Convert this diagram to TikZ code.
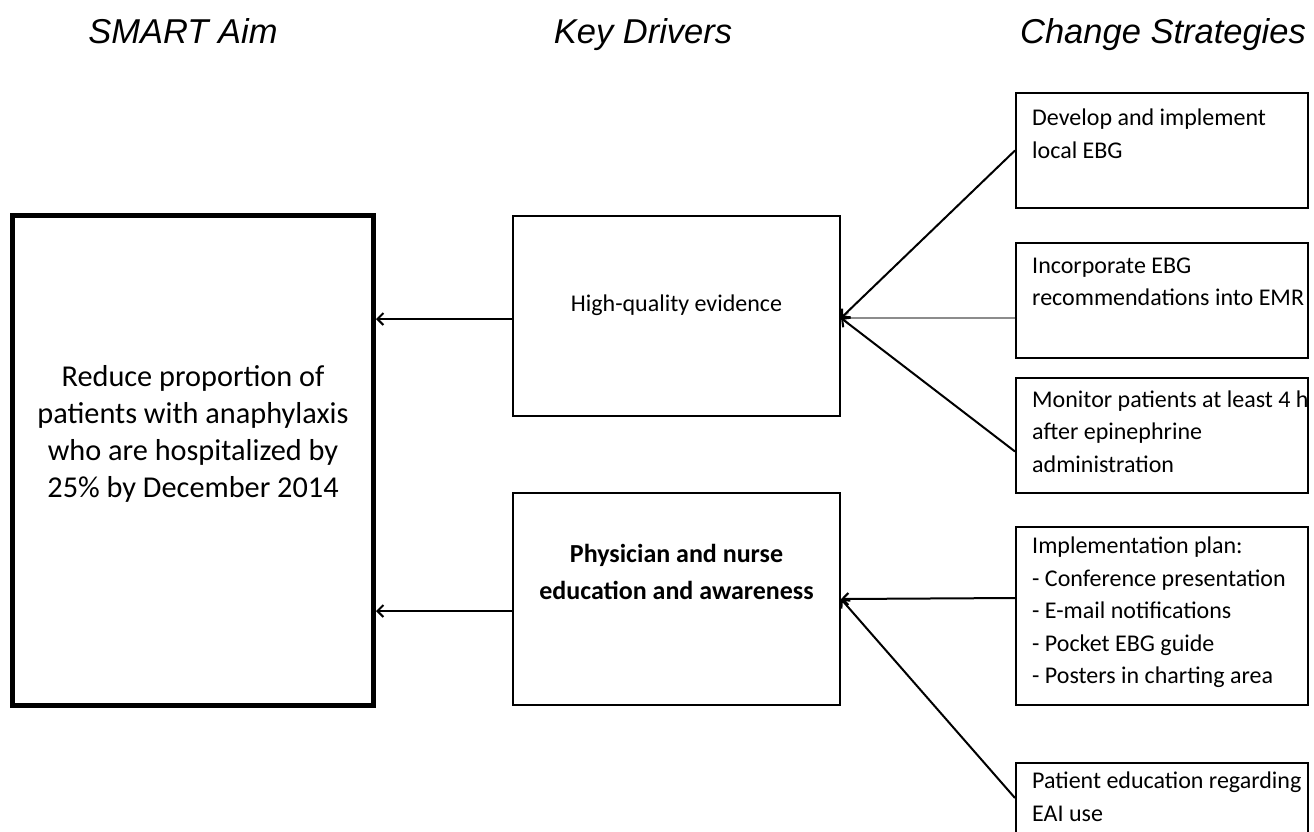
\documentclass[tikz,border=0pt]{standalone}
\usepackage{fontspec}
\setmainfont{Carlito}
\newfontfamily\titlefont{Liberation Sans}
\usetikzlibrary{arrows.meta}
\begin{document}
\begin{tikzpicture}[x=1pt,y=-1pt,
  title/.style={font=\titlefont\itshape\fontsize{34.5}{40}\selectfont, inner sep=0pt, anchor=base},
  box/.style={draw, line width=2pt, rectangle, inner sep=0pt},
  aimbox/.style={draw, line width=5pt, rectangle, inner sep=0pt, minimum width=361pt, minimum height=490pt},
  kdbox/.style={box, minimum width=327pt},
  csbox/.style={box, minimum width=292pt, minimum height=115pt},
  cstext/.style={font=\fontsize{24}{32.5}\selectfont, align=left, inner sep=0pt, anchor=base west},
  arr/.style={line width=2pt, -{Straight Barb[length=6pt,width=12pt]}},
]
\useasboundingbox (0,0) rectangle (1314,831);

% titles
\node[title] (h1) at (183,43) {SMART Aim};
\node[title] (h2) at (643,43) {Key Drivers};
\node[title] (h3) at (1163,43) {Change Strategies};

% aim
\node[aimbox] (aim) at (193,460.5) {};
\node[font=\fontsize{30.3}{37}\selectfont, align=center, inner sep=0pt] (aimt) at (193,434)
  {Reduce proportion of\\patients with anaphylaxis\\who are hospitalized by\\25\% by December 2014};

% key drivers
\node[kdbox, minimum height=200pt] (kd1) at (676.5,316) {};
\node[font=\fontsize{24}{29}\selectfont, inner sep=0pt] (kd1t) at (676.5,305) {High-quality evidence};
\node[kdbox, minimum height=212pt] (kd2) at (676.5,599) {};
\node[font=\bfseries\fontsize{26}{37}\selectfont, align=center, inner sep=0pt] (kd2t) at (676.5,572)
  {Physician and nurse\\education and awareness};

% change strategies (base anchor = baseline of last line)
\node[csbox] (c1) at (1162,150.5) {};
\node[cstext] (c1t) at (1032,158) {Develop and implement\\local EBG};
\node[csbox] (c2) at (1162,300.5) {};
\node[cstext] (c2t) at (1032,305.5) {Incorporate EBG\\recommendations into EMR};
\node[csbox] (c3) at (1162,435.5) {};
\node[cstext] (c3t) at (1032,472) {Monitor patients at least 4 h\\after epinephrine\\administration};
\node[csbox, minimum height=178pt] (c4) at (1162,616) {};
\node[cstext] (c4t) at (1032,683.5) {Implementation plan:\\- Conference presentation\\- E-mail notifications\\- Pocket EBG guide\\- Posters in charting area};
\node[csbox] (c5) at (1162,820.5) {};
\node[cstext] (c5t) at (1032,821) {Patient education regarding\\EAI use};

% connectors
\draw[arr] ([yshift=-3pt]kd1.west) -- ([yshift=-3pt]kd1.west -| aim.east);
\draw[arr] ([yshift=-12pt]kd2.west) -- ([yshift=-12pt]kd2.west -| aim.east);
\draw[arr, draw=gray!90] ([yshift=-17.5pt]c2.west) -- ([yshift=-2pt]kd1.east);
\draw[arr] (c1.west) -- ([yshift=-2pt]kd1.east);
\draw[arr] ([yshift=-16pt]c3.west) -- ([yshift=-2pt]kd1.east);
\draw[arr] ([yshift=18pt]c4.west) -- ([yshift=17pt]c4.west -| kd2.east);
\draw[arr] ([yshift=22.5pt]c5.west) -- ([yshift=17pt]c4.west -| kd2.east);
\end{tikzpicture}
\end{document}
